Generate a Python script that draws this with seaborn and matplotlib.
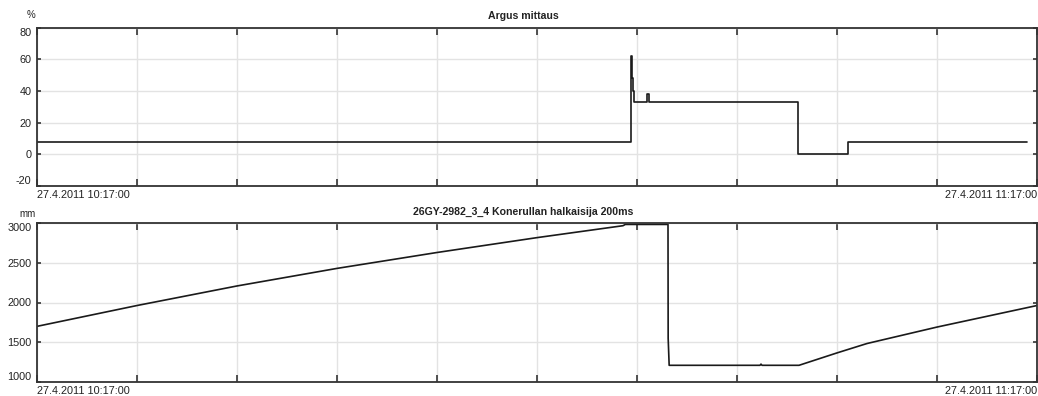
import matplotlib
matplotlib.use("Agg")
import matplotlib.pyplot as plt
import seaborn as sns
import pandas as pd
import numpy as np

# ---- data (minutes after 27.4.2011 10:17:00) ----
argus_minutes = [0, 35.64, 35.69, 35.75, 35.82, 36.60, 36.72, 45.66, 48.66, 59.40]
argus_values = [8, 62, 48, 40, 33, 38, 33, 0, 8, 8]

roll_minutes = [0, 6, 12, 18, 24, 30, 35.16, 35.3, 37.86, 37.87, 37.93,
                43.38, 43.44, 43.50, 45.72, 48, 49.8, 54, 60]
roll_values = [1700, 1962, 2208, 2429, 2629, 2816, 2966, 2982, 2982, 1550, 1210,
               1210, 1225, 1210, 1210, 1366, 1484, 1691, 1962]

top_title = "Argus mittaus"
bottom_title = "26GY-2982_3_4 Konerullan halkaisija 200ms"
top_unit = "%"
bottom_unit = "mm"
top_yticks = [-20, 0, 20, 40, 60, 80]
bottom_yticks = [1000, 1500, 2000, 2500, 3000]
start_label = "27.4.2011 10:17:00"
end_label = "27.4.2011 11:17:00"

base = pd.Timestamp("2011-04-27 10:17:00")
def to_time(mins):
    return base + pd.to_timedelta(np.array(mins, dtype=float), unit="m")

sns.set_theme(style="white")
plt.rcParams["font.family"] = ["Liberation Sans", "DejaVu Sans"]

fig = plt.figure(figsize=(10.38, 3.96), dpi=100)
ax1 = fig.add_axes([37/1038, 1-186/396, 1000/1038, 158.5/396])
ax2 = fig.add_axes([37/1038, 1-382/396, 1000/1038, 159/396])

df1 = pd.DataFrame({"t": to_time(argus_minutes), "v": argus_values})
df2 = pd.DataFrame({"t": to_time(roll_minutes), "v": roll_values})

sns.lineplot(data=df1, x="t", y="v", ax=ax1, estimator=None, sort=False,
             drawstyle="steps-post", color="#1a1a1a", linewidth=1.2)
sns.lineplot(data=df2, x="t", y="v", ax=ax2, estimator=None, sort=False,
             color="#1a1a1a", linewidth=1.2)

xticks = to_time(np.arange(0, 61, 6))
xlabels = [start_label] + [""] * (len(xticks) - 2) + [end_label]

unit_offsets = {top_unit: (-4, 9), bottom_unit: (-6.5, 6.5)}

for ax, yt, ttl, unit in [(ax1, top_yticks, top_title, top_unit),
                          (ax2, bottom_yticks, bottom_title, bottom_unit)]:
    ax.set_xlim(xticks[0], xticks[-1])
    ax.set_ylim(yt[0], yt[-1])
    ax.set_yticks(yt)
    ax.set_yticklabels([str(v) for v in yt])
    ax.set_xticks(xticks)
    ax.set_xticklabels(xlabels)
    lbls = ax.get_xticklabels()
    lbls[0].set_ha("left")
    lbls[-1].set_ha("right")
    ax.grid(True, color="#e3e3e3", linewidth=1.0)
    ax.set_axisbelow(True)
    for s in ax.spines.values():
        s.set_color("#333333")
        s.set_linewidth(1.3)
    ax.tick_params(axis="x", direction="in", top=True, bottom=True, length=5,
                   width=1.2, color="#333333", labelsize=7.8, pad=3, labelcolor="#222222")
    ax.tick_params(axis="y", direction="in", left=True, right=True, length=3,
                   width=1.2, color="#333333", labelsize=7.8, pad=4, labelcolor="#222222")
    ylbls = ax.get_yticklabels()
    ylbls[0].set_va("bottom")
    ylbls[-1].set_va("top")
    ax.set_xlabel("")
    ax.set_ylabel("")
    ax.set_title(ttl, fontsize=7.6, fontweight="bold", pad=6, color="#222222", x=0.486)
    ax.annotate(unit, xy=(0, 1), xycoords="axes fraction", xytext=unit_offsets[unit],
                textcoords="offset points", ha="center", va="center",
                fontsize=7, color="#222222")

fig.savefig("out.png", dpi=100, facecolor="white")
